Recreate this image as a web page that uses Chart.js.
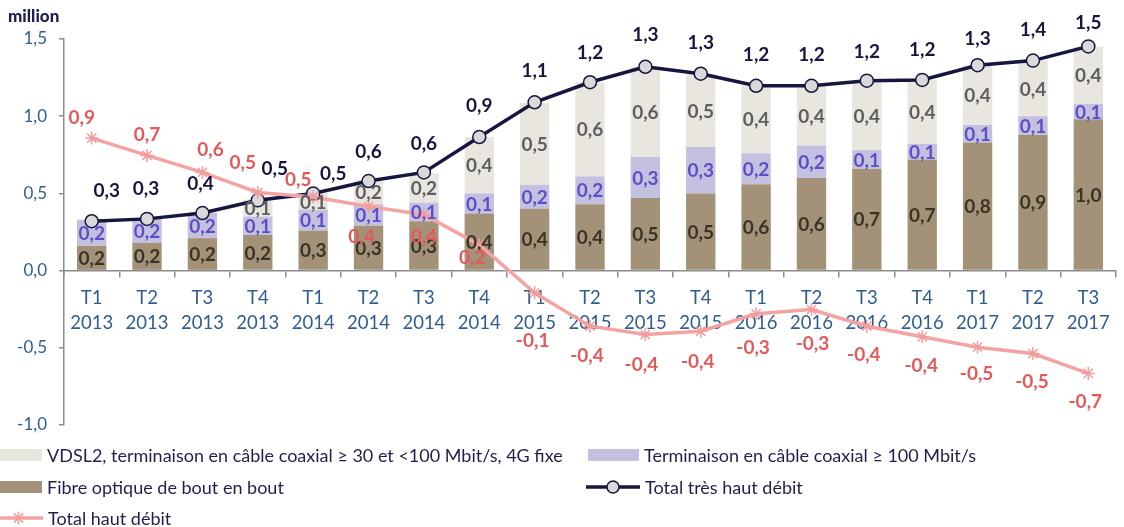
<!DOCTYPE html>
<html lang="fr">
<head>
    <meta charset="UTF-8">
    <title>Très haut débit</title>
    <script src="https://cdn.jsdelivr.net/npm/chart.js@4.4.0/dist/chart.umd.min.js"></script>
    <style>
        html, body { margin: 0; padding: 0; background: #fff; }
        #wrap { position: relative; width: 1124px; height: 527px; }
    </style>
</head>
<body>
<div id="wrap">
    <canvas id="myChart" width="1124" height="527"></canvas>
</div>

<script>
    // quarters (two-line tick labels)
    const quarters = [
        ['T1', '2013'], ['T2', '2013'], ['T3', '2013'], ['T4', '2013'],
        ['T1', '2014'], ['T2', '2014'], ['T3', '2014'], ['T4', '2014'],
        ['T1', '2015'], ['T2', '2015'], ['T3', '2015'], ['T4', '2015'],
        ['T1', '2016'], ['T2', '2016'], ['T3', '2016'], ['T4', '2016'],
        ['T1', '2017'], ['T2', '2017'], ['T3', '2017']
    ];

    // millions of lines
    const fibre = [0.16, 0.18, 0.21, 0.23, 0.26, 0.29, 0.32, 0.37, 0.40, 0.43, 0.47, 0.50, 0.56, 0.60, 0.66, 0.72, 0.83, 0.88, 0.98];
    const coax100 = [0.17, 0.155, 0.165, 0.12, 0.135, 0.14, 0.12, 0.13, 0.156, 0.18, 0.265, 0.30, 0.20, 0.21, 0.12, 0.10, 0.114, 0.12, 0.10];
    const vdsl = [null, null, null, 0.11, 0.105, 0.155, 0.19, 0.365, 0.53, 0.61, 0.585, 0.475, 0.44, 0.39, 0.44, 0.415, 0.386, 0.36, 0.37];
    const totalTHD = [0.32, 0.335, 0.373, 0.455, 0.50, 0.58, 0.636, 0.865, 1.09, 1.22, 1.32, 1.275, 1.197, 1.197, 1.23, 1.235, 1.33, 1.36, 1.452];
    const totalHD = [0.858, 0.746, 0.636, 0.506, 0.477, 0.416, 0.362, 0.168, -0.144, -0.36, -0.414, -0.393, -0.28, -0.252, -0.36, -0.429, -0.496, -0.537, -0.666];

    const yTicks = [1.5, 1.0, 0.5, 0.0, -0.5, -1.0];
    const unitLabel = 'million';

    const fmt = v => v.toFixed(1).replace('.', ',');

    // label nudges (px) so the values sit like in the original
    const thdShift = {
        dx: [15, -1, -2, 17, 20, 0, 0, 0, 0, 0, 0, 0, 0, 0, 0, 0, 0, 0, 0],
        dy: [-30, -30, -29, -31, -20, -29, -29, -31, -31, -29, -32, -31, -31, -31, -29, -30, -26, -31, -24]
    };
    const hdShift = {
        dx: [-10, 0, 8, -15, -15, -7, 0, -7, -2, -3, -4, -3, -3, 1, -3, -1, -1, -1, -3],
        dy: [-20, -21, -23, -30, -17, 31, 22, 13, 48, 30, 30, 31, 34, 34, 29, 29, 27, 28, 28]
    };

    const valueLabels = {
        id: 'valueLabels',
        afterDatasetsDraw(chart) {
            const ctx = chart.ctx;
            ctx.save();
            ctx.font = 'bold 19px Lato, sans-serif';
            ctx.textAlign = 'center';
            ctx.textBaseline = 'middle';
            // bars first, then the two lines on top
            [0, 1, 2, 3, 4].forEach(di => {
                const ds = chart.data.datasets[di];
                const meta = chart.getDatasetMeta(di);
                ctx.fillStyle = ds.labelColor;
                meta.data.forEach((el, i) => {
                    const v = ds.data[i];
                    if (v === null || v === undefined) return;
                    let x = el.x, y;
                    if (ds.type === 'bar') {
                        y = (el.y + el.base) / 2 + 1;
                    } else {
                        x += ds.labelShift.dx[i];
                        y = el.y + ds.labelShift.dy[i];
                    }
                    ctx.fillText(fmt(v), x, y);
                });
            });
            // unit above the y axis
            ctx.font = '900 17px Lato, sans-serif';
            ctx.textAlign = 'left';
            ctx.fillStyle = '#1f1f4f';
            ctx.fillText(unitLabel, 8, 17);
            ctx.restore();
        }
    };

    const legendRows = [
        { ds: 2, x: 0, y: 455, w: 42, text: 'VDSL2, terminaison en câble coaxial ≥ 30 et <100 Mbit/s, 4G fixe' },
        { ds: 1, x: 588, y: 455, w: 51, text: 'Terminaison en câble coaxial ≥ 100 Mbit/s' },
        { ds: 0, x: 0, y: 487, w: 42, text: 'Fibre optique de bout en bout' },
        { ds: 3, x: 586, y: 487, w: 54, text: 'Total très haut débit' },
        { ds: 4, x: 0, y: 518, w: 43, text: 'Total haut débit' }
    ];

    function drawStar(ctx, x, y, r) {
        ctx.beginPath();
        for (let a = 0; a < 4; a++) {
            const ang = a * Math.PI / 4;
            ctx.moveTo(x - Math.cos(ang) * r, y - Math.sin(ang) * r);
            ctx.lineTo(x + Math.cos(ang) * r, y + Math.sin(ang) * r);
        }
        ctx.stroke();
    }

    const bottomLegend = {
        id: 'bottomLegend',
        afterDraw(chart) {
            const ctx = chart.ctx;
            ctx.save();
            legendRows.forEach(row => {
                const ds = chart.data.datasets[row.ds];
                if (ds.type === 'bar') {
                    ctx.fillStyle = ds.backgroundColor;
                    ctx.fillRect(row.x, row.y - 6, row.w, 12);
                } else {
                    ctx.strokeStyle = ds.borderColor;
                    ctx.lineWidth = ds.borderWidth;
                    ctx.beginPath();
                    ctx.moveTo(row.x, row.y);
                    ctx.lineTo(row.x + row.w, row.y);
                    ctx.stroke();
                    const cx = row.x + row.w / 2;
                    ctx.lineWidth = ds.pointBorderWidth;
                    ctx.strokeStyle = ds.pointBorderColor;
                    if (ds.pointStyle === 'circle') {
                        ctx.fillStyle = ds.pointBackgroundColor;
                        ctx.beginPath();
                        ctx.arc(cx, row.y, ds.pointRadius - 0.5, 0, Math.PI * 2);
                        ctx.fill();
                        ctx.stroke();
                    } else {
                        drawStar(ctx, cx - 3, row.y, ds.pointRadius);
                    }
                }
                ctx.fillStyle = '#1f1f4f';
                ctx.font = '18px Lato, sans-serif';
                ctx.textAlign = 'left';
                ctx.textBaseline = 'middle';
                ctx.fillText(row.text, row.x + row.w + 5, row.y + 1);
            });
            ctx.restore();
        }
    };

    const axisGray = '#8c8c8c';
    const tickBlue = '#2f5d92';

    function buildChart() {
        const ctx = document.getElementById('myChart').getContext('2d');
        new Chart(ctx, {
            data: {
                labels: quarters,
                datasets: [
                    {
                        type: 'bar', label: 'Fibre optique de bout en bout', data: fibre,
                        backgroundColor: '#a39278', labelColor: '#3a3427',
                        stack: 'lines', order: 3, barPercentage: 1, categoryPercentage: 0.53
                    },
                    {
                        type: 'bar', label: 'Terminaison en câble coaxial ≥ 100 Mbit/s', data: coax100,
                        backgroundColor: '#c4c0df', labelColor: '#5a4fc6',
                        stack: 'lines', order: 3, barPercentage: 1, categoryPercentage: 0.53
                    },
                    {
                        type: 'bar', label: 'VDSL2, terminaison en câble coaxial ≥ 30 et <100 Mbit/s, 4G fixe', data: vdsl,
                        backgroundColor: '#e8e6df', labelColor: '#5e5e5e',
                        stack: 'lines', order: 3, barPercentage: 1, categoryPercentage: 0.53
                    },
                    {
                        type: 'line', label: 'Total très haut débit', data: totalTHD,
                        borderColor: '#16163f', borderWidth: 3.5, tension: 0,
                        pointStyle: 'circle', pointRadius: 6.5, pointBorderWidth: 1.5,
                        pointBackgroundColor: '#d9d9d9', pointBorderColor: '#16163f',
                        labelColor: '#16163f', labelShift: thdShift,
                        stack: 'thd', order: 1
                    },
                    {
                        type: 'line', label: 'Total haut débit', data: totalHD,
                        borderColor: '#f4a3a3', borderWidth: 3.5, tension: 0,
                        pointStyle: 'star', pointRadius: 6.5, pointBorderWidth: 1.5,
                        pointBackgroundColor: '#f29c9c', pointBorderColor: '#f29c9c',
                        labelColor: '#e5585a', labelShift: hdShift,
                        stack: 'hd', order: 0
                    }
                ]
            },
            options: {
                responsive: false,
                animation: false,
                devicePixelRatio: 1,
                layout: { padding: { left: 0, right: 0, top: 39, bottom: 102 } },
                scales: {
                    x: {
                        stacked: true,
                        position: { y: 0 },
                        offset: true,
                        border: { display: true, color: axisGray, width: 1.5 },
                        grid: { offset: true, drawOnChartArea: false, drawTicks: true, tickLength: 6, color: axisGray, lineWidth: 1.5 },
                        ticks: {
                            autoSkip: false, maxRotation: 0, padding: 8,
                            color: tickBlue,
                            font: { family: 'Lato', size: 18.5, lineHeight: 1.4 }
                        }
                    },
                    y: {
                        stacked: true,
                        min: -1, max: 1.5,
                        afterFit: scale => { scale.width = 64; },
                        afterBuildTicks: scale => { scale.ticks = yTicks.map(v => ({ value: v })); },
                        border: { display: true, color: axisGray, width: 1.5 },
                        grid: { drawOnChartArea: false, drawTicks: true, tickLength: 5, color: axisGray, lineWidth: 1.5 },
                        ticks: {
                            padding: 12,
                            color: tickBlue,
                            font: { family: 'Lato', size: 17 },
                            callback: v => fmt(v)
                        }
                    }
                },
                plugins: {
                    legend: { display: false },
                    tooltip: { enabled: false }
                }
            },
            plugins: [valueLabels, bottomLegend]
        });
    }

    document.fonts.load('bold 19px Lato').then(buildChart, buildChart);
</script>
</body>
</html>
